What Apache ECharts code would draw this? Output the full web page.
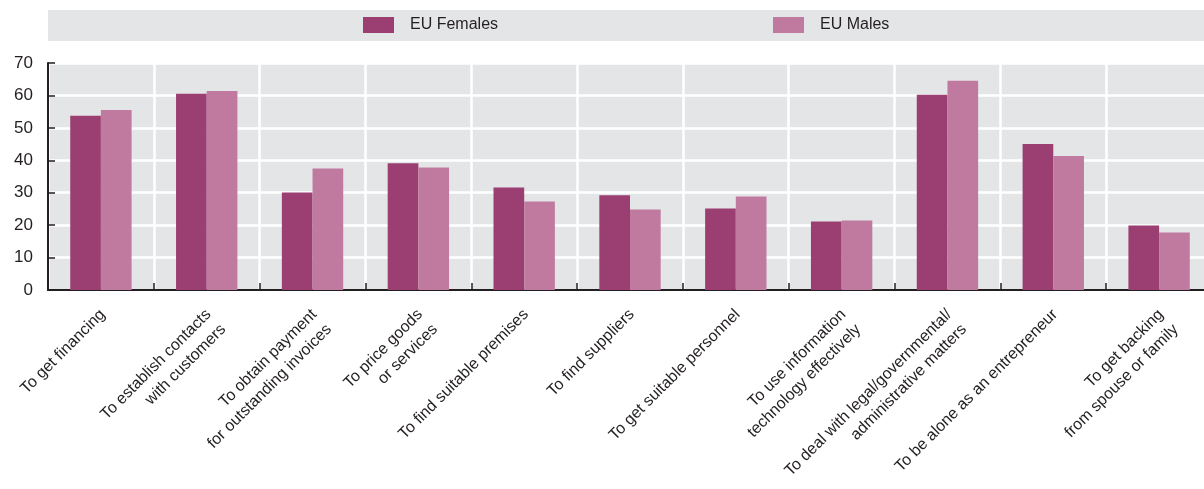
<!DOCTYPE html>
<html>
<head>
<meta charset="utf-8">
<script src="https://cdn.jsdelivr.net/npm/echarts@6/dist/echarts.min.js"></script>
<style>
html,body{margin:0;padding:0;background:#fff;}
#chart{width:1204px;height:489px;}
</style>
</head>
<body>
<div id="chart"></div>
<script>
const categories = [
  "To get financing",
  "To establish contacts\nwith customers",
  "To obtain payment\nfor outstanding invoices",
  "To price goods\nor services",
  "To find suitable premises",
  "To find suppliers",
  "To get suitable personnel",
  "To use information\ntechnology effectively",
  "To deal with legal/governmental/\nadministrative matters",
  "To be alone as an entrepreneur",
  "To get backing\nfrom spouse or family"
];
const females = [53.7, 60.5, 30.1, 39.1, 31.6, 29.2, 25.1, 21.1, 60.2, 45.0, 19.9];
const males   = [55.5, 61.4, 37.5, 37.8, 27.3, 24.8, 28.8, 21.4, 64.5, 41.3, 17.7];
const seriesNames = ["EU Females", "EU Males"];
const yTicks = [0, 10, 20, 30, 40, 50, 60, 70];

const FONT = '"Liberation Sans Narrow", "Arial Narrow", "Liberation Sans", Arial, sans-serif';
const chart = echarts.init(document.getElementById('chart'), null, {renderer: 'canvas'});
const legendText = {fontFamily: FONT, fontSize: 16, color: '#231f20', padding: [0, 0, 0, 11]};
chart.setOption({
  animation: false,
  graphic: [{
    type: 'rect', left: 48, top: 10, z: -1,
    shape: {width: 1156, height: 31},
    style: {fill: '#e4e5e7'}
  }],
  legend: [
    {data: [seriesNames[0]], left: 363, top: 17, itemWidth: 31, itemHeight: 16, padding: 0,
     textStyle: legendText, icon: 'rect'},
    {data: [seriesNames[1]], left: 773, top: 17, itemWidth: 31, itemHeight: 16, padding: 0,
     textStyle: legendText, icon: 'rect'}
  ],
  grid: {
    left: 48, top: 63, width: 1164, height: 227,
    outerBoundsMode: 'none', containLabel: false,
    show: true, backgroundColor: '#e4e5e7', borderWidth: 0
  },
  xAxis: {
    type: 'category',
    data: categories,
    axisLine: {show: true, lineStyle: {color: '#231f20', width: 2}},
    axisTick: {show: true, inside: true, length: 7, lineStyle: {color: '#231f20', width: 1.5}},
    splitLine: {show: true, lineStyle: {color: '#ffffff', width: 2.5}},
    axisLabel: {
      rotate: 45, interval: 0, margin: 9, verticalAlign: 'top', align: 'right',
      padding: [0, 8, 0, 0],
      fontFamily: FONT, fontSize: 16, color: '#231f20', lineHeight: 21
    }
  },
  yAxis: {
    type: 'value',
    min: 0, max: 70, interval: 10,
    axisLine: {show: true, lineStyle: {color: '#231f20', width: 2}},
    axisTick: {show: true, inside: true, length: 7, lineStyle: {color: '#231f20', width: 1.5}},
    splitLine: {show: true, lineStyle: {color: '#ffffff', width: 2.5}},
    axisLabel: {
      margin: 15, fontFamily: FONT, fontSize: 17, color: '#231f20',
      formatter: v => yTicks.includes(v) ? String(v) : ''
    }
  },
  series: [
    {name: seriesNames[0], type: 'bar', data: females, barGap: '0%', barCategoryGap: '42%',
     itemStyle: {color: '#9b3f72'}},
    {name: seriesNames[1], type: 'bar', data: males, barGap: '0%', barCategoryGap: '42%',
     itemStyle: {color: '#c07aa0'}}
  ]
});
</script>
</body>
</html>
